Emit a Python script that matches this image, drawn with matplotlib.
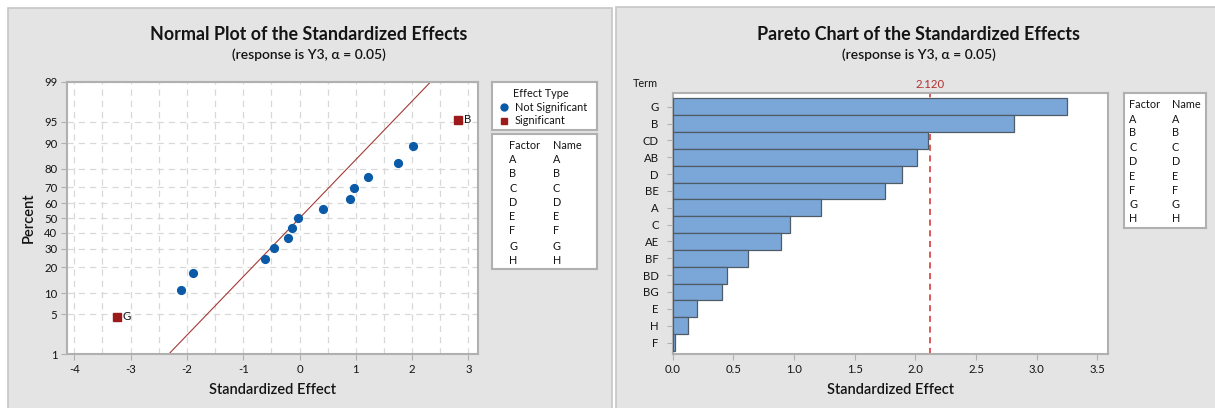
import matplotlib
matplotlib.use('Agg')
import matplotlib.pyplot as plt
from matplotlib.patches import Rectangle
import matplotlib.transforms as mtransforms
from statistics import NormalDist
import numpy as np

plt.rcParams['font.family'] = ['Lato', 'DejaVu Sans']

# ---------------- data ----------------
terms = ['G', 'B', 'CD', 'AB', 'D', 'BE', 'A', 'C', 'AE', 'BF', 'BD', 'BG', 'E', 'H', 'F']
effects = [-3.25, 2.81, -2.10, 2.01, -1.89, 1.75, 1.22, 0.97, 0.89, -0.62, -0.45, 0.41, -0.20, -0.13, -0.02]
# percent (normal plot) for effects in ascending order
percent_sorted = [4.6, 11.0, 17.5, 24.0, 30.5, 37.0, 43.5, 50.0, 56.5, 63.0, 69.5, 76.0, 82.5, 89.0, 95.4]
crit_value = 2.120
factors = ['A', 'B', 'C', 'D', 'E', 'F', 'G', 'H']
names = ['A', 'B', 'C', 'D', 'E', 'F', 'G', 'H']
pct_ticks = [1, 5, 10, 20, 30, 40, 50, 60, 70, 80, 90, 95, 99]
normal_xticks = [-4, -3, -2, -1, 0, 1, 2, 3]
pareto_xticks = [0.0, 0.5, 1.0, 1.5, 2.0, 2.5, 3.0, 3.5]
labeled_terms = ['G', 'B']

W, H = 1215, 408
fig = plt.figure(figsize=(W / 100, H / 100), dpi=100)
fig.patch.set_facecolor('white')


def rect(x0, y0, x1, y1):
    return [x0 / W, 1 - y1 / H, (x1 - x0) / W, (y1 - y0) / H]


PANEL = '#e4e4e4'
PEDGE = '#c6c6c6'
fig.patches.append(Rectangle((8 / W, -0.01), (612 - 8) / W, (408 - 8) / H + 0.01,
                             transform=fig.transFigure, facecolor=PANEL, edgecolor=PEDGE, lw=1.2, zorder=-10))
fig.patches.append(Rectangle((616 / W, -0.01), (1216 - 616) / W, (408 - 7) / H + 0.01,
                             transform=fig.transFigure, facecolor=PANEL, edgecolor=PEDGE, lw=1.2, zorder=-10))

TXT = '#141414'
SPINE = '#b0b0b0'
BLUE = '#0a5aa8'
RED = '#9c1a1a'
nd = NormalDist()
TITLE_FS = 12.9
SUB_FS = 10
LAB_FS = 10.5
TICK_FS = 8.2
LEG_FS = 7.8


def style_spines(ax):
    for s in ax.spines.values():
        s.set_color(SPINE)
        s.set_linewidth(1.5)


# ---------------- Normal plot ----------------
fig.text(309 / W, 1 - 35 / H, 'Normal Plot of the Standardized Effects', ha='center', va='center',
         fontsize=TITLE_FS, color=TXT, fontweight='bold')
fig.text(309 / W, 1 - 55 / H, '(response is Y3, α = 0.05)', ha='center', va='center',
         fontsize=SUB_FS, color=TXT, fontweight='semibold')

ax1 = fig.add_axes(rect(67, 82, 478, 354.3))
ax1.set_facecolor('white')
zlo, zhi = nd.inv_cdf(0.01), nd.inv_cdf(0.99)
ax1.set_ylim(zlo, zhi)
ax1.set_xlim(-4.13, 3.17)
ax1.set_yticks([nd.inv_cdf(p / 100) for p in pct_ticks])
ax1.set_yticklabels([str(p) for p in pct_ticks])
ax1.set_xticks(normal_xticks)
ax1.set_xticklabels([str(t) for t in normal_xticks])
ax1.set_xticks(np.arange(-4, 3.01, 0.5), minor=True)
ax1.tick_params(axis='both', which='major', length=4, color=SPINE, labelsize=TICK_FS, labelcolor=TXT, pad=3)
ax1.tick_params(axis='x', which='minor', length=0)
ax1.grid(True, axis='x', which='both', color='#d8d8d8', ls=(0, (5, 4)), lw=0.9)
ax1.grid(True, axis='y', which='major', color='#d8d8d8', ls=(0, (5, 4)), lw=0.9)
ax1.set_axisbelow(True)
style_spines(ax1)

zl = np.array([zlo, zhi])
ax1.plot(zl, zl, color='#a33a36', lw=0.8, zorder=2)

order = np.argsort(effects)
sorted_eff = [effects[i] for i in order]
sorted_terms = [terms[i] for i in order]
zs = [nd.inv_cdf(p / 100) for p in percent_sorted]
for e, z, t in zip(sorted_eff, zs, sorted_terms):
    if abs(e) > crit_value:
        ax1.plot(e, z, marker='s', ms=5.3, color=RED, mec=RED, zorder=4, clip_on=False)
    else:
        ax1.plot(e, z, marker='o', ms=5.6, color=BLUE, mec=BLUE, zorder=4)
    if t in labeled_terms:
        ax1.annotate(t, (e, z), xytext=(4.5, 0), textcoords='offset points', va='center', ha='left',
                     fontsize=TICK_FS, color=TXT)

ax1.set_xlabel('Standardized Effect', fontsize=LAB_FS, color=TXT, labelpad=6, fontweight='semibold')
ax1.set_ylabel('Percent', fontsize=LAB_FS, color=TXT, labelpad=6, fontweight='semibold')

# Effect type legend box
lg1 = fig.add_axes(rect(492.3, 81.7, 597.3, 130))
lg1.set_xlim(492.3, 597.3); lg1.set_ylim(130, 81.7)
lg1.set_xticks([]); lg1.set_yticks([])
style_spines(lg1)
lg1.text(541, 93.3, 'Effect Type', ha='center', va='center', fontsize=LEG_FS, color=TXT)
lg1.plot(504, 107.3, marker='o', ms=5, color=BLUE)
lg1.text(515, 107.3, 'Not Significant', ha='left', va='center', fontsize=LEG_FS, color=TXT)
lg1.plot(504, 121, marker='s', ms=5, color=RED)
lg1.text(515, 121, 'Significant', ha='left', va='center', fontsize=LEG_FS, color=TXT)

lg2 = fig.add_axes(rect(492.3, 134.3, 597.3, 269))
lg2.set_xlim(492.3, 597.3); lg2.set_ylim(269, 134.3)
lg2.set_xticks([]); lg2.set_yticks([])
style_spines(lg2)
lg2.text(509.3, 145.3, 'Factor', ha='left', va='center', fontsize=LEG_FS, color=TXT)
lg2.text(552.7, 145.3, 'Name', ha='left', va='center', fontsize=LEG_FS, color=TXT)
rows1 = [159.3, 173.3, 188.3, 202.7, 216.7, 231, 246, 260]
for yy, f, n in zip(rows1, factors, names):
    lg2.text(509.3, yy, f, ha='left', va='center', fontsize=LEG_FS, color=TXT)
    lg2.text(552.7, yy, n, ha='left', va='center', fontsize=LEG_FS, color=TXT)

# ---------------- Pareto chart ----------------
fig.text(918.5 / W, 1 - 34 / H, 'Pareto Chart of the Standardized Effects', ha='center', va='center',
         fontsize=TITLE_FS, color=TXT, fontweight='bold')
fig.text(918.5 / W, 1 - 55 / H, '(response is Y3, α = 0.05)', ha='center', va='center',
         fontsize=SUB_FS, color=TXT, fontweight='semibold')

ax2 = fig.add_axes(rect(672.7, 93.3, 1108.3, 354.3))
ax2.set_facecolor('white')
ypos = np.arange(len(terms))
ax2.barh(ypos, [abs(e) for e in effects], height=1.0, color='#7ba7d8', edgecolor='#4f5b66', lw=0.9, zorder=3)
ax2.set_ylim(len(terms) - 0.3, -0.8)
ax2.set_xlim(0, 3.59)
ax2.set_yticks(ypos)
ax2.set_yticklabels(terms)
ax2.set_xticks(pareto_xticks)
ax2.set_xticklabels([f'{t:.1f}' for t in pareto_xticks])
ax2.tick_params(axis='both', length=4, color=SPINE, labelsize=TICK_FS, labelcolor=TXT, pad=3)
ax2.tick_params(axis='y', pad=6)
style_spines(ax2)
ax2.axvline(crit_value, color='#d42a2a', ls=(0, (4, 3)), lw=1.1, zorder=2)
trans = mtransforms.blended_transform_factory(ax2.transData, fig.transFigure)
ax2.text(crit_value, 1 - 84 / H, f'{crit_value:.3f}', transform=trans, ha='center', va='center',
         fontsize=TICK_FS, color='#b03030')
fig.text(633 / W, 1 - 83.5 / H, 'Term', ha='left', va='center', fontsize=7.8, color=TXT)
ax2.set_xlabel('Standardized Effect', fontsize=LAB_FS, color=TXT, labelpad=6, fontweight='semibold')

lg3 = fig.add_axes(rect(1124.3, 93.3, 1206, 228.3))
lg3.set_xlim(1124.3, 1206); lg3.set_ylim(228.3, 93.3)
lg3.set_xticks([]); lg3.set_yticks([])
style_spines(lg3)
lg3.text(1129.3, 104.3, 'Factor', ha='left', va='center', fontsize=LEG_FS, color=TXT)
lg3.text(1171.7, 104.3, 'Name', ha='left', va='center', fontsize=LEG_FS, color=TXT)
rows2 = [119.3, 132.3, 147.7, 161.7, 176, 190, 205, 219]
for yy, f, n in zip(rows2, factors, names):
    lg3.text(1129.3, yy, f, ha='left', va='center', fontsize=LEG_FS, color=TXT)
    lg3.text(1171.7, yy, n, ha='left', va='center', fontsize=LEG_FS, color=TXT)

fig.savefig('out.png', dpi=100, facecolor='white')
